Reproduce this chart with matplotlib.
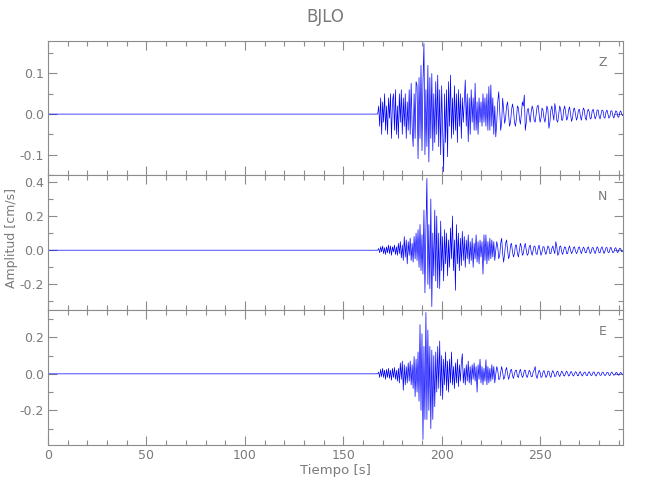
import numpy as np
import matplotlib
matplotlib.use("Agg")
from matplotlib import pyplot as plt
from matplotlib.ticker import MultipleLocator, FormatStrFormatter

# record starts at 0 s, signal (flat before) begins at ONSET, sampled every DT
STATION = "BJLO"
ONSET = 167.5
DT = 0.5
T_END = 292

# vertical component, cm/s (one row = 5 s)
z_vals = [
    0.0, 0.02, -0.03, 0.04, -0.05, 0.03, -0.02, 0.05, -0.04, 0.02,
    -0.05, 0.04, -0.01, 0.05, -0.06, 0.03, 0.05, -0.04, 0.06, -0.05,
    0.02, -0.06, 0.05, -0.02, 0.06, -0.05, 0.04, -0.03, 0.05, -0.06,
    0.03, -0.04, 0.06, -0.05, 0.076, -0.03, -0.08, 0.05, -0.06, 0.08,
    0.07, -0.11, 0.09, -0.06, 0.12, -0.09, 0.08, 0.174, -0.10, 0.06,
    -0.08, 0.12, -0.118, 0.09, -0.06, 0.1, -0.09, 0.05, -0.07, 0.08,
    -0.05, 0.096, -0.08, 0.06, -0.1, 0.07, -0.04, -0.142, 0.05, -0.07,
    0.06, -0.105, 0.08, -0.03, 0.096, -0.06, 0.04, -0.05, 0.07, -0.04,
    0.05, -0.07, 0.06, -0.03, 0.05, -0.06, 0.04, -0.02, 0.03, 0.084,
    -0.03, 0.05, -0.068, 0.04, -0.05, 0.06, -0.02, 0.04, -0.04, 0.076,
    -0.04, 0.03, -0.05, 0.04, -0.02, 0.03, -0.03, 0.05, -0.02, 0.04,
    -0.03, 0.05, -0.04, 0.068, -0.04, 0.072, -0.03, 0.04, -0.05, 0.02,
    -0.056, -0.02, 0.03, 0.055, 0.01, -0.04, -0.02, 0.039, 0.01, -0.023,
    -0.01, 0.02, 0.03, 0.0, -0.03, -0.02, 0.01, 0.025, 0.01, -0.02,
    -0.03, -0.01, 0.02, 0.015, -0.01, -0.025, 0.0, 0.03, 0.02, 0.047,
    -0.04, -0.02, 0.01, 0.014, -0.005, -0.02, 0.005, 0.02, 0.01, -0.015,
    -0.02, 0.0, 0.018, 0.022, 0.0, -0.02, -0.01, 0.015, 0.01, -0.01,
    -0.02, 0.0, 0.02, 0.01, -0.035, -0.02, 0.01, 0.02, 0.0, -0.015,
    0.026, 0.01, -0.015, -0.02, 0.0, 0.02, 0.01, -0.015, -0.015, 0.01,
    0.02, 0.005, -0.015, -0.01, 0.01, 0.018, 0.0, -0.018, -0.01, 0.012,
    0.015, 0.0, -0.015, -0.008, 0.01, 0.012, -0.005, -0.015, 0.0, 0.015,
    0.01, -0.01, -0.015, 0.005, 0.012, 0.005, -0.012, -0.01, 0.008, 0.012,
    0.0, -0.012, -0.005, 0.01, 0.01, -0.005, -0.012, 0.0, 0.01, 0.008,
    -0.008, -0.01, 0.005, 0.01, 0.0, -0.01, -0.006, 0.008, 0.008, -0.004,
    -0.01, 0.0, 0.008, 0.006, -0.006, -0.008, 0.004, 0.008, 0.0, -0.004,
]

# north component
n_vals = [
    0.0, 0.01, -0.015, 0.02, -0.01, 0.025, -0.02, 0.015, -0.025, 0.02,
    -0.015, 0.03, -0.02, 0.025, -0.03, 0.02, -0.01, 0.03, -0.025, 0.02,
    -0.03, 0.04, -0.02, 0.05, -0.045, 0.03, -0.06, 0.08, -0.04, 0.06,
    -0.08, 0.05, -0.03, 0.07, -0.06, 0.04, -0.07, 0.08, -0.05, 0.1,
    -0.06, 0.12, -0.1, 0.15, -0.12, 0.09, -0.14, 0.235, -0.25, 0.12,
    0.42, -0.2, 0.15, -0.225, 0.3, -0.33, 0.1, -0.15, 0.235, -0.18,
    0.2, -0.22, 0.1, -0.225, 0.17, -0.12, 0.08, -0.18, 0.12, -0.08,
    0.1, -0.15, 0.06, -0.1, 0.13, -0.05, 0.2, -0.12, 0.06, -0.235,
    0.15, -0.08, 0.1, -0.12, 0.07, -0.09, 0.11, -0.06, 0.08, -0.1,
    0.06, -0.05, 0.09, -0.08, 0.05, -0.06, 0.07, -0.1, 0.04, -0.05,
    0.09, -0.07, 0.05, -0.08, 0.06, -0.04, 0.05, -0.14, 0.09, -0.06,
    0.09, -0.08, 0.05, -0.06, 0.07, -0.05, 0.06, -0.04, 0.05, -0.06,
    0.0, 0.05, 0.02, -0.05, -0.03, 0.04, 0.07, -0.02, -0.07, -0.02,
    0.04, 0.06, 0.0, -0.05, -0.03, 0.03, 0.04, -0.01, -0.04, -0.02,
    0.03, 0.03, -0.02, -0.04, 0.0, 0.04, 0.02, -0.03, -0.02, 0.02,
    0.04, 0.0, -0.03, -0.02, 0.02, 0.03, -0.01, -0.03, 0.0, 0.025,
    0.02, -0.02, -0.025, 0.01, 0.03, 0.0, -0.03, -0.01, 0.02, 0.02,
    -0.01, -0.025, 0.0, 0.025, 0.015, -0.02, -0.02, 0.01, 0.025, 0.0,
    -0.02, 0.05, 0.02, -0.03, -0.02, 0.02, 0.025, -0.01, -0.025, 0.0,
    0.02, 0.015, -0.02, -0.02, 0.01, 0.025, 0.0, -0.02, -0.01, 0.015,
    0.02, -0.005, -0.02, -0.01, 0.015, 0.02, -0.005, -0.02, 0.0, 0.018,
    0.01, -0.015, -0.015, 0.01, 0.02, 0.0, -0.02, -0.01, 0.015, 0.015,
    -0.005, -0.02, 0.0, 0.02, 0.01, -0.015, -0.015, 0.01, 0.02, 0.0,
    -0.02, -0.005, 0.015, 0.015, -0.01, -0.015, 0.005, 0.018, 0.0, -0.015,
    -0.01, 0.01, 0.015, -0.005, -0.015, 0.0, 0.012, 0.008, -0.01, -0.005,
]

# east component
e_vals = [
    0.0, 0.01, -0.02, 0.025, -0.015, 0.03, -0.02, 0.02, -0.03, 0.025,
    -0.02, 0.03, -0.025, 0.02, -0.035, 0.03, -0.02, 0.035, -0.03, 0.02,
    -0.04, 0.03, -0.05, 0.06, -0.03, 0.07, -0.09, 0.05, -0.06, 0.04,
    -0.05, 0.06, -0.04, 0.07, -0.06, 0.05, -0.08, 0.095, -0.125, 0.08,
    -0.1, 0.12, -0.15, 0.27, -0.2, 0.22, -0.36, 0.15, -0.25, 0.336,
    -0.25, 0.24, -0.2, 0.15, -0.3, 0.13, -0.25, 0.1, -0.18, 0.12,
    -0.1, 0.15, -0.08, 0.18, -0.12, 0.1, -0.14, 0.08, -0.06, 0.12,
    -0.09, 0.07, -0.1, 0.08, -0.05, 0.12, -0.06, 0.04, -0.08, 0.06,
    -0.05, 0.08, -0.07, 0.05, -0.04, 0.06, 0.11, -0.05, 0.03, -0.06,
    0.05, -0.04, 0.07, -0.05, 0.04, -0.06, 0.05, -0.03, 0.06, -0.04,
    0.04, -0.1, 0.05, -0.03, 0.08, -0.05, 0.04, -0.06, 0.03, -0.04,
    0.077, -0.06, 0.04, -0.05, 0.03, -0.04, 0.05, -0.03, 0.04, -0.05,
    0.0, 0.04, 0.02, -0.03, -0.03, 0.01, 0.04, 0.01, -0.03, -0.02,
    0.02, 0.035, 0.0, -0.03, -0.01, 0.02, 0.025, -0.01, -0.025, 0.0,
    0.02, 0.02, -0.015, -0.02, 0.01, 0.025, 0.0, -0.02, -0.01, 0.02,
    0.02, -0.01, -0.02, 0.0, 0.02, 0.01, -0.015, -0.015, 0.01, 0.02,
    0.04, -0.01, -0.025, 0.0, 0.02, 0.01, -0.02, -0.015, 0.01, 0.018,
    0.0, -0.02, -0.01, 0.015, 0.015, -0.01, -0.02, 0.005, 0.018, 0.005,
    -0.015, -0.012, 0.01, 0.015, -0.005, -0.015, 0.0, 0.015, 0.008, -0.01,
    -0.012, 0.005, 0.015, 0.005, -0.012, -0.008, 0.01, 0.012, -0.005, -0.012,
    0.0, 0.012, 0.008, -0.01, -0.01, 0.008, 0.012, -0.004, -0.012, 0.0,
    0.01, 0.008, -0.008, -0.01, 0.005, 0.012, 0.0, -0.01, -0.005, 0.01,
    0.01, -0.005, -0.012, 0.0, 0.01, 0.006, -0.008, -0.008, 0.006, 0.01,
    -0.002, -0.01, -0.004, 0.008, 0.008, -0.006, -0.01, 0.004, 0.01, 0.0,
    -0.008, -0.004, 0.006, 0.008, -0.004, -0.008, 0.002, 0.008, 0.002, -0.004,
]

components = ["Z", "N", "E"]
traces = [z_vals, n_vals, e_vals]
y_limits = [(-0.15, 0.18), (-0.35, 0.44), (-0.39, 0.35)]
y_major = [0.1, 0.2, 0.2]
y_minor = [0.05, 0.1, 0.1]

GRAY = "#8c8c8c"
TXT = "#7a7a7a"
plt.rcParams['font.family'] = ['DejaVu Sans']

fig = plt.figure(figsize=(6.5, 5), dpi=100)
# panel boxes in figure fraction: top, middle, bottom
boxes = [(0.074, 0.650, 0.884, 0.268),
         (0.074, 0.380, 0.884, 0.270),
         (0.074, 0.110, 0.884, 0.270)]

for k, comp in enumerate(components):
    ax = fig.add_axes(boxes[k])
    vals = np.array(traces[k])
    t = ONSET + DT * np.arange(len(vals))
    # flat record before onset
    t = np.concatenate([[0.0], t])
    vals = np.concatenate([[0.0], vals])
    ax.plot(t, vals, color="#0000ff", lw=0.5)

    ax.set_xlim(0, T_END)
    ax.set_ylim(*y_limits[k])
    ax.xaxis.set_major_locator(MultipleLocator(50))
    ax.xaxis.set_minor_locator(MultipleLocator(10))
    ax.yaxis.set_major_locator(MultipleLocator(y_major[k]))
    ax.yaxis.set_minor_locator(MultipleLocator(y_minor[k]))
    ax.yaxis.set_major_formatter(FormatStrFormatter("%.1f"))
    ax.tick_params(which="both", direction="in", top=True, right=True,
                   color=GRAY, labelcolor=TXT, labelsize=9, width=0.8)
    ax.tick_params(which="major", length=6.5, pad=3)
    ax.tick_params(which="minor", length=3.5)
    for s in ax.spines.values():
        s.set_color(GRAY)
        s.set_linewidth(0.8)
    if k < 2:
        ax.tick_params(labelbottom=False)
    else:
        ax.set_xlabel("Tiempo [s]", color=TXT, fontsize=9.5, labelpad=1)
    ax.text(0.965, 0.84, comp, transform=ax.transAxes, color=TXT,
            fontsize=9, ha="center", va="center")

fig.text(0.5, 0.965, STATION, ha="center", va="center", color=TXT, fontsize=12)
fig.text(0.018, 0.525, "Amplitud [cm/s]", rotation=90, ha="center",
         va="center", color=TXT, fontsize=9)

fig.savefig("out.png", dpi=100)
